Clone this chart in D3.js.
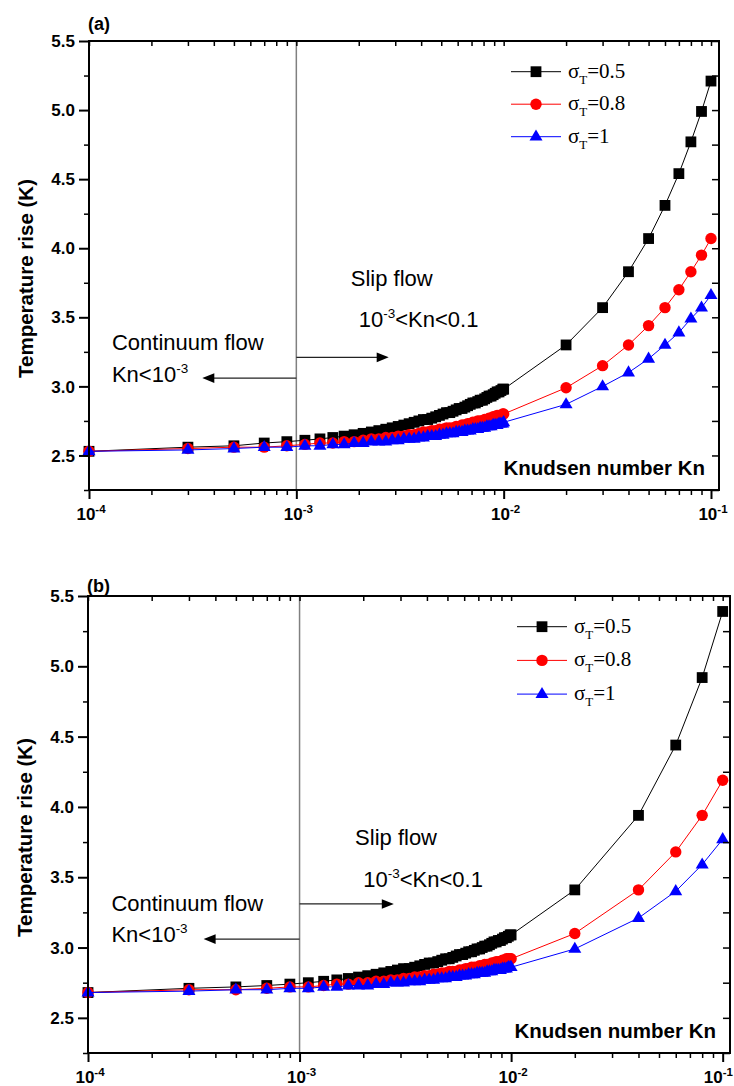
<!DOCTYPE html>
<html>
<head>
<meta charset="utf-8">
<script src="https://cdn.jsdelivr.net/npm/d3@7"></script>
<style>
  body { margin: 0; background: #fff; }
  svg { display: block; }
</style>
</head>
<body>
<svg id="chart"></svg>
<script>
// Knudsen numbers: fine sweep 1e-4 .. 1e-2, then coarse points
const knFine = [0.0001, 0.0003, 0.0005, 0.0007, 0.0009, 0.0011, 0.0013, 0.0015, 0.0017, 0.0019,
  0.0021, 0.0023, 0.0025, 0.0027, 0.0029, 0.0031, 0.0033, 0.0035, 0.0037, 0.0039,
  0.0041, 0.0043, 0.0045, 0.0047, 0.0049, 0.0051, 0.0053, 0.0055, 0.0057, 0.0059,
  0.0061, 0.0063, 0.0065, 0.0067, 0.0069, 0.0071, 0.0073, 0.0075, 0.0077, 0.0079,
  0.0081, 0.0083, 0.0085, 0.0087, 0.0089, 0.0091, 0.0093, 0.0095, 0.0097, 0.0099, 0.01];
const knCoarseA = [0.02, 0.03, 0.04, 0.05, 0.06, 0.07, 0.08, 0.09, 0.1];
const knCoarseB = [0.02, 0.04, 0.06, 0.08, 0.1];

// panel (a) temperature rise (K)
const aFine05 = [2.53, 2.56, 2.57, 2.59, 2.60, 2.61, 2.62, 2.63, 2.64, 2.65,
  2.66, 2.67, 2.68, 2.69, 2.70, 2.71, 2.72, 2.73, 2.74, 2.75,
  2.76, 2.76, 2.77, 2.78, 2.79, 2.80, 2.81, 2.81, 2.82, 2.83,
  2.84, 2.84, 2.85, 2.86, 2.87, 2.88, 2.88, 2.89, 2.90, 2.90,
  2.91, 2.92, 2.93, 2.93, 2.94, 2.95, 2.96, 2.96, 2.97, 2.98, 2.98];
const aFine08 = [2.53, 2.55, 2.56, 2.56, 2.57, 2.58, 2.59, 2.59, 2.60, 2.60,
  2.61, 2.62, 2.62, 2.63, 2.63, 2.64, 2.64, 2.65, 2.65, 2.66,
  2.67, 2.67, 2.68, 2.68, 2.69, 2.69, 2.70, 2.70, 2.70, 2.71,
  2.71, 2.72, 2.72, 2.73, 2.73, 2.74, 2.74, 2.75, 2.75, 2.75,
  2.76, 2.76, 2.77, 2.77, 2.78, 2.78, 2.79, 2.79, 2.79, 2.80, 2.80];
const aFine10 = [2.53, 2.54, 2.55, 2.56, 2.56, 2.57, 2.57, 2.58, 2.58, 2.59,
  2.59, 2.60, 2.60, 2.60, 2.61, 2.61, 2.62, 2.62, 2.62, 2.63,
  2.63, 2.64, 2.64, 2.64, 2.65, 2.65, 2.66, 2.66, 2.66, 2.67,
  2.67, 2.67, 2.68, 2.68, 2.68, 2.69, 2.69, 2.69, 2.70, 2.70,
  2.70, 2.71, 2.71, 2.71, 2.72, 2.72, 2.72, 2.73, 2.73, 2.73, 2.74];
const aCoarse05 = [3.30, 3.57, 3.83, 4.07, 4.31, 4.54, 4.77, 4.99, 5.21];
const aCoarse08 = [2.99, 3.15, 3.30, 3.44, 3.57, 3.70, 3.83, 3.95, 4.07];
const aCoarse10 = [2.87, 3.00, 3.10, 3.20, 3.30, 3.39, 3.49, 3.57, 3.66];

// panel (b) temperature rise (K)
const bFine05 = [2.68, 2.71, 2.72, 2.73, 2.74, 2.75, 2.76, 2.77, 2.78, 2.79,
  2.80, 2.81, 2.82, 2.83, 2.84, 2.85, 2.85, 2.86, 2.87, 2.88,
  2.89, 2.89, 2.90, 2.91, 2.92, 2.92, 2.93, 2.94, 2.95, 2.95,
  2.96, 2.97, 2.97, 2.98, 2.99, 2.99, 3.00, 3.01, 3.01, 3.02,
  3.03, 3.04, 3.04, 3.05, 3.05, 3.06, 3.07, 3.07, 3.08, 3.09, 3.09];
const bFine08 = [2.68, 2.70, 2.70, 2.71, 2.72, 2.72, 2.73, 2.74, 2.74, 2.75,
  2.75, 2.76, 2.76, 2.77, 2.77, 2.78, 2.78, 2.79, 2.79, 2.80,
  2.80, 2.81, 2.81, 2.82, 2.82, 2.83, 2.83, 2.83, 2.84, 2.84,
  2.85, 2.85, 2.86, 2.86, 2.86, 2.87, 2.87, 2.88, 2.88, 2.88,
  2.89, 2.89, 2.90, 2.90, 2.90, 2.91, 2.91, 2.92, 2.92, 2.92, 2.92];
const bFine10 = [2.68, 2.69, 2.70, 2.70, 2.71, 2.71, 2.72, 2.72, 2.73, 2.73,
  2.73, 2.74, 2.74, 2.75, 2.75, 2.75, 2.76, 2.76, 2.76, 2.77,
  2.77, 2.77, 2.78, 2.78, 2.78, 2.79, 2.79, 2.79, 2.80, 2.80,
  2.80, 2.81, 2.81, 2.81, 2.82, 2.82, 2.82, 2.82, 2.83, 2.83,
  2.83, 2.84, 2.84, 2.84, 2.84, 2.85, 2.85, 2.85, 2.86, 2.86, 2.86];
const bCoarse05 = [3.41, 3.94, 4.44, 4.92, 5.39];
const bCoarse08 = [3.10, 3.41, 3.68, 3.94, 4.19];
const bCoarse10 = [2.99, 3.21, 3.40, 3.59, 3.77];

const sigmaLabels = ["0.5", "0.8", "1"];
const yMajor = [2.5, 3.0, 3.5, 4.0, 4.5, 5.0, 5.5];
const yMinor = [2.25, 2.75, 3.25, 3.75, 4.25, 4.75, 5.25];
const xMajor = [1e-4, 1e-3, 1e-2, 1e-1];

const SANS = "'Liberation Sans', Arial, Helvetica, sans-serif";
const SERIF = "'Liberation Serif', 'Times New Roman', serif";
const colors = ["#000000", "#ff0000", "#0000ff"];
const shapes = {
  square: "M-5.4,-5.4h10.8v10.8h-10.8z",
  circle: d3.symbol(d3.symbolCircle, Math.PI * 5.7 * 5.7)(),
  triangle: "M0,-7.2L6.5,3.9L-6.5,3.9Z"
};
const shapeOrder = ["square", "circle", "triangle"];
const W = 734;

const svg = d3.select("#chart").attr("width", W).attr("height", 1086);

// text with a superscript part: parts = [[text, isSup], ...]
function richText(sel, parts, size, supSize, rise) {
  parts.forEach(([t, sup], i) => {
    const prevSup = i > 0 && parts[i - 1][1];
    const ts = sel.append("tspan").text(t).attr("font-size", sup ? supSize : size);
    if (sup && !prevSup) ts.attr("dy", -rise);
    if (!sup && prevSup) ts.attr("dy", rise);
  });
  return sel;
}

function drawPanel(p) {
  const x = d3.scaleLog().domain([1e-4, p.xMax]).range([p.left, p.right]);
  const y = d3.scaleLinear().domain([2.25, 5.5]).range([p.bottom, p.top]);
  const g = svg.append("g");

  // regime boundary at Kn = 1e-3
  const xb = x(1e-3);
  g.append("line")
    .attr("x1", xb).attr("x2", xb).attr("y1", p.top).attr("y2", p.bottom)
    .attr("stroke", "#808080").attr("stroke-width", 1.5);

  // arrows
  const arrows = [
    { y: p.arrowRightT, to: 0.00279 },
    { y: p.arrowLeftT, to: 0.000352 }
  ];
  arrows.forEach(a => {
    const yy = y(a.y), xe = x(a.to), dir = xe > xb ? 1 : -1;
    g.append("line")
      .attr("x1", xb).attr("x2", xe - dir * 10).attr("y1", yy).attr("y2", yy)
      .attr("stroke", "#222").attr("stroke-width", 1.2);
    g.append("path")
      .attr("d", `M${xe},${yy}L${xe - dir * 12},${yy - 4.8}L${xe - dir * 12},${yy + 4.8}Z`)
      .attr("fill", "#000");
  });

  // annotation text
  const ann = g.append("g").attr("font-family", SANS).attr("fill", "#000");
  richText(ann.append("text").attr("x", x(0.00183)).attr("y", y(3.73)), [["Slip flow", false]], 22, 13.5, 9);
  richText(ann.append("text").attr("x", x(0.00200)).attr("y", y(3.43)),
    [["10", false], ["-3", true], ["<Kn<0.1", false]], 22, 13.5, 9);
  richText(ann.append("text").attr("x", x(0.000129)).attr("y", y(3.26)), [["Continuum flow", false]], 22, 13.5, 9);
  richText(ann.append("text").attr("x", x(0.000129)).attr("y", y(p.knTextT)),
    [["Kn<10", false], ["-3", true]], 22, 13.5, 9);

  // series
  const line = d3.line().x(d => x(d[0])).y(d => y(d[1]));
  p.series.forEach((s, si) => {
    const pts = s.kn.map((k, i) => [k, s.temp[i]]);
    g.append("path").datum(pts)
      .attr("fill", "none").attr("stroke", colors[si]).attr("stroke-width", 1)
      .attr("d", line);
    g.append("g").selectAll("path").data(pts).join("path")
      .attr("transform", d => `translate(${x(d[0])},${y(d[1])})`)
      .attr("d", shapes[shapeOrder[si]])
      .attr("fill", colors[si]);
  });

  // axes
  const xMinor = x.ticks().filter(d => !xMajor.some(m => Math.abs(m - d) < m * 1e-6));
  const axes = [
    { ax: d3.axisLeft(y).tickValues(yMajor).tickSize(10), tr: `translate(${p.left},0)`, w: 2 },
    { ax: d3.axisLeft(y).tickValues(yMinor).tickSize(5), tr: `translate(${p.left},0)`, w: 1.5 },
    { ax: d3.axisRight(y).tickValues(yMajor.concat(yMinor)).tickSize(-7), tr: `translate(${p.right},0)`, w: 1.5 },
    { ax: d3.axisBottom(x).tickValues(xMajor).tickSize(9), tr: `translate(0,${p.bottom})`, w: 2 },
    { ax: d3.axisBottom(x).tickValues(xMinor).tickSize(5), tr: `translate(0,${p.bottom})`, w: 1.5 },
    { ax: d3.axisTop(x).tickValues(xMinor.concat(xMajor)).tickSize(-5), tr: `translate(0,${p.top})`, w: 1.5 }
  ];
  axes.forEach(a => {
    const ag = g.append("g").attr("transform", a.tr).call(a.ax.tickFormat(""));
    ag.select(".domain").remove();
    ag.selectAll(".tick line").attr("stroke", "#000").attr("stroke-width", a.w);
  });

  // frame
  g.append("rect")
    .attr("x", p.left).attr("y", p.top)
    .attr("width", p.right - p.left).attr("height", p.bottom - p.top)
    .attr("fill", "none").attr("stroke", "#000").attr("stroke-width", 2);

  // y tick labels
  g.append("g").selectAll("text").data(yMajor).join("text")
    .attr("x", p.left - 14).attr("y", d => y(d)).attr("dy", "0.36em")
    .attr("text-anchor", "end").attr("font-family", SANS).attr("font-weight", "bold")
    .attr("font-size", 17).text(d => d.toFixed(1));

  // x tick labels 10^n, kept inside the page
  g.append("g").selectAll("text").data(xMajor).join("text")
    .attr("y", p.bottom + 30)
    .attr("text-anchor", "middle").attr("font-family", SANS).attr("font-weight", "bold")
    .each(function (d) {
      const t = d3.select(this);
      richText(t, [["10", false], [String(Math.round(Math.log10(d))), true]], 17, 11.5, 7);
      const half = this.getComputedTextLength() / 2;
      t.attr("x", Math.min(x(d) + 2, W - half - 1));
    });

  // axis titles
  g.append("text")
    .attr("transform", `translate(${p.left - 56},${(p.top + p.bottom) / 2 + 13}) rotate(-90)`)
    .attr("text-anchor", "middle").attr("font-family", SANS).attr("font-weight", "bold")
    .attr("font-size", 20.5).text("Temperature rise (K)");
  g.append("text")
    .attr("x", p.right - 14).attr("y", y(2.355))
    .attr("text-anchor", "end").attr("font-family", SANS).attr("font-weight", "bold")
    .attr("font-size", 20.5).text("Knudsen number Kn");

  // panel label
  g.append("text")
    .attr("x", p.left - 1).attr("y", p.top - p.labelGap)
    .attr("font-family", SANS).attr("font-weight", "bold").attr("font-size", 18)
    .text(p.label);

  // legend
  const lg = g.append("g");
  sigmaLabels.forEach((lab, i) => {
    const yy = p.top + 30.7 + i * p.legendStep;
    lg.append("line")
      .attr("x1", p.legendX).attr("x2", p.legendX + 50).attr("y1", yy).attr("y2", yy)
      .attr("stroke", colors[i]).attr("stroke-width", 1);
    lg.append("path")
      .attr("transform", `translate(${p.legendX + 25},${yy})`)
      .attr("d", shapes[shapeOrder[i]]).attr("fill", colors[i]);
    const t = lg.append("text")
      .attr("x", p.legendX + 57).attr("y", yy + 6)
      .attr("font-family", SERIF).attr("fill", "#000");
    t.append("tspan").attr("font-size", 21).text("\u03c3");
    t.append("tspan").attr("font-size", 13).attr("dy", 6).text("T");
    t.append("tspan").attr("font-size", 21).attr("dy", -6).text("=" + lab);
  });
}

drawPanel({
  label: "(a)", labelGap: 11,
  left: 89, right: 719, top: 41, bottom: 490, xMax: 0.1093,
  arrowRightT: 3.21, arrowLeftT: 3.06, knTextT: 3.035,
  legendX: 511, legendStep: 32.5,
  series: [
    { kn: knFine.concat(knCoarseA), temp: aFine05.concat(aCoarse05) },
    { kn: knFine.concat(knCoarseA), temp: aFine08.concat(aCoarse08) },
    { kn: knFine.concat(knCoarseA), temp: aFine10.concat(aCoarse10) }
  ]
});

drawPanel({
  label: "(b)", labelGap: 4,
  left: 88, right: 730, top: 596, bottom: 1053, xMax: 0.1083,
  arrowRightT: 3.31, arrowLeftT: 3.06, knTextT: 3.04,
  legendX: 517, legendStep: 33.7,
  series: [
    { kn: knFine.concat(knCoarseB), temp: bFine05.concat(bCoarse05) },
    { kn: knFine.concat(knCoarseB), temp: bFine08.concat(bCoarse08) },
    { kn: knFine.concat(knCoarseB), temp: bFine10.concat(bCoarse10) }
  ]
});
</script>
</body>
</html>
